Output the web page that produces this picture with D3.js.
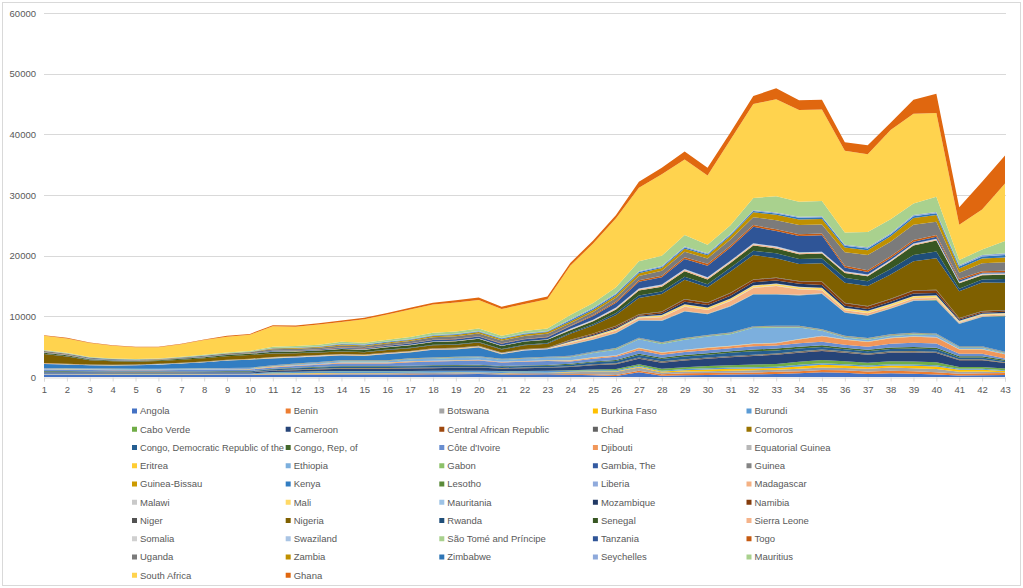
<!DOCTYPE html>
<html><head><meta charset="utf-8">
<script src="https://cdn.jsdelivr.net/npm/d3@7"></script>
<style>
body{margin:0;background:#fff;}
svg{display:block;font-family:"Liberation Sans",Arial,sans-serif;}
</style></head><body>
<svg id="chart" width="1023" height="588"></svg>
<script>
const categories = [1,2,3,4,5,6,7,8,9,10,11,12,13,14,15,16,17,18,19,20,21,22,23,24,25,26,27,28,29,30,31,32,33,34,35,36,37,38,39,40,41,42,43];
const yTicks = [0,10000,20000,30000,40000,50000,60000];

const angola = [350,350,340,330,320,320,330,340,350,350,350,370,380,400,400,400,420,440,460,480,400,420,440,380,300,150,800,200,300,350,400,450,500,600,800,700,500,600,550,400,250,300,350];
const benin = [30,30,30,30,30,30,30,30,30,30,60,60,60,70,70,70,70,70,70,70,70,70,70,100,150,200,250,250,300,300,300,300,350,350,350,400,400,450,400,400,300,300,300];
const botswana = [60,60,60,60,60,60,60,60,60,60,100,120,150,150,150,150,150,150,150,150,150,150,150,300,400,500,500,300,300,300,350,350,350,400,400,400,450,500,500,500,300,300,150];
const burkinaFaso = [30,30,30,30,30,30,30,30,30,30,60,60,60,60,60,60,60,60,60,60,60,60,60,100,100,100,150,150,200,300,300,300,300,400,450,400,350,350,400,450,350,300,200];
const burundi = [100,100,100,100,100,100,100,100,100,100,200,220,250,250,250,250,250,250,250,250,250,250,250,150,150,150,150,150,200,200,200,200,200,250,250,200,200,200,200,200,150,150,100];
const caboVerde = [20,20,20,20,20,20,20,20,20,20,40,40,40,40,40,40,40,40,40,40,40,40,40,100,150,200,250,300,300,350,400,450,450,500,550,500,450,500,500,500,300,300,300];
const cameroon = [150,150,150,150,150,150,150,150,150,150,200,250,300,400,400,400,420,450,480,500,400,450,500,500,700,800,900,1000,1100,1200,1300,1400,1500,1500,1500,1400,1300,1400,1500,1500,1100,1100,900];
const car = [20,20,20,20,20,20,20,20,20,20,30,30,30,30,30,30,30,30,30,30,30,30,30,30,40,40,50,50,50,50,50,50,50,50,50,50,50,50,50,50,50,50,50];
const chad = [30,30,30,30,30,30,30,30,30,30,60,60,60,60,60,60,60,60,60,60,60,60,60,80,100,100,150,150,150,150,150,150,150,150,150,150,150,150,150,150,100,100,50];
const comoros = [10,10,10,10,10,10,10,10,10,10,20,20,20,20,20,20,20,20,20,20,20,20,20,30,30,30,30,30,30,30,30,30,30,30,30,30,30,30,30,30,30,30,30];
const congoDR = [120,120,120,120,120,120,120,120,120,120,150,200,230,250,250,250,250,250,250,250,250,250,250,250,300,350,400,400,450,450,500,550,500,450,400,350,350,400,400,400,300,300,200];
const congoRep = [50,50,50,50,50,50,50,50,50,50,100,100,100,100,100,100,100,100,100,100,100,100,100,150,150,200,200,200,250,250,250,300,300,300,300,250,250,250,250,250,200,200,200];
const coteDIvoire = [250,230,200,180,170,180,200,230,250,280,200,270,330,400,400,400,580,620,650,700,550,600,650,400,450,500,600,500,500,500,500,550,500,600,600,500,500,600,700,700,400,400,200];
const djibouti = [30,30,30,30,30,30,30,30,30,30,100,100,100,100,100,100,100,100,100,100,100,100,100,100,150,200,300,300,300,350,350,350,400,600,900,800,800,900,1000,1000,700,700,700];
const eqGuinea = [10,10,10,10,10,10,10,10,10,10,20,20,20,20,20,20,20,20,20,20,20,20,20,50,50,50,50,50,50,50,50,50,50,50,50,50,50,50,50,50,50,50,50];
const eritrea = [20,20,20,20,20,20,20,20,20,20,30,30,30,30,30,30,30,30,30,30,30,30,30,30,30,30,30,30,30,30,30,30,30,30,30,30,30,30,30,30,30,30,30];
const ethiopia = [120,120,120,120,120,120,120,120,120,120,50,100,150,200,200,200,320,350,380,400,300,350,400,500,700,900,1400,1400,1650,1800,1900,2600,2500,1900,800,300,300,300,300,300,200,200,100];
const gabon = [20,20,20,20,20,20,20,20,20,20,50,50,50,50,50,50,50,50,50,50,50,50,50,100,100,100,100,100,100,100,100,100,100,100,100,100,100,100,100,100,100,100,100];
const gambia = [20,20,20,20,20,20,20,20,20,20,40,40,40,40,40,40,40,40,40,40,40,40,40,40,40,40,40,40,40,40,40,40,40,40,40,40,40,40,40,40,40,40,40];
const guinea = [30,30,30,30,30,30,30,30,30,30,60,60,60,60,60,60,60,60,60,60,60,60,60,100,100,100,100,100,100,100,100,100,100,100,100,100,100,100,100,100,100,100,100];
const guineaBissau = [10,10,10,10,10,10,10,10,10,10,20,20,20,20,20,20,20,20,20,20,20,20,20,30,30,30,30,30,30,30,30,30,30,30,30,30,30,30,30,30,30,30,30];
const kenya = [670,580,500,490,550,640,800,970,1230,1350,1115,985,895,795,715,1035,955,1275,1225,1445,765,1185,1225,1740,1910,2430,2800,3500,4350,3400,4300,5200,5150,5000,5800,3800,3650,4200,5250,5450,3650,4800,5850];
const lesotho = [10,10,10,10,10,10,10,10,10,10,20,20,20,20,20,20,20,20,20,20,20,20,20,50,50,50,50,50,50,50,50,50,50,50,50,50,50,50,50,50,50,50,50];
const liberia = [10,10,10,10,10,10,10,10,10,10,20,20,20,20,20,20,20,20,20,20,20,20,20,60,60,60,60,60,60,60,60,60,60,60,60,60,60,60,60,60,60,60,60];
const madagascar = [40,40,40,40,40,40,40,40,40,40,70,70,70,70,70,70,70,70,70,70,70,70,70,250,300,350,300,500,700,600,800,1000,1300,900,500,300,300,300,300,300,150,150,150];
const malawi = [10,10,10,10,10,10,10,10,10,10,20,20,20,20,20,20,20,20,20,20,20,20,20,60,60,60,60,60,60,60,60,60,60,60,60,60,60,60,60,60,60,60,60];
const mali = [30,30,30,30,30,30,30,30,30,30,40,40,40,40,40,40,40,40,40,40,40,40,40,120,150,180,150,250,300,300,300,300,300,300,300,300,300,300,300,300,150,150,150];
const mauritania = [10,10,10,10,10,10,10,10,10,10,20,20,20,20,20,20,20,20,20,20,20,20,20,60,60,60,60,60,60,60,60,60,60,60,60,60,60,60,60,60,60,60,60];
const mozambique = [10,10,10,10,10,10,10,10,10,10,20,20,20,20,20,20,20,20,20,20,20,20,20,100,150,200,150,250,400,400,450,500,500,500,450,350,300,350,400,400,200,200,200];
const namibia = [20,20,20,20,20,20,20,20,20,20,30,30,30,30,30,30,30,30,30,30,30,30,30,100,150,200,150,250,350,350,400,400,400,400,500,400,400,400,450,450,200,200,200];
const niger = [10,10,10,10,10,10,10,10,10,10,20,20,20,20,20,20,20,20,20,20,20,20,20,80,80,80,80,80,80,80,80,80,80,80,80,80,80,80,80,80,80,80,80];
const nigeria = [1500,1200,700,550,450,450,480,520,560,600,550,450,420,400,350,400,450,500,500,550,500,600,650,1000,1300,1800,2700,2900,3200,2500,3500,4000,3200,2800,3000,3300,3300,4000,4800,5200,4400,4700,4500];
const rwanda = [15,15,15,15,15,15,15,15,15,15,40,40,40,60,60,70,80,90,100,100,100,100,120,150,200,300,400,400,500,500,600,700,800,800,800,800,800,900,1000,1100,400,500,600];
const senegal = [200,180,150,130,120,120,140,160,180,200,250,260,280,350,350,380,400,450,480,520,500,520,550,400,500,600,800,800,900,800,800,900,800,800,800,800,800,1200,1600,1800,900,700,700];
const sierraLeone = [10,10,10,10,10,10,10,10,10,10,20,20,20,30,30,30,30,30,30,30,30,30,30,100,100,150,200,200,200,200,200,200,200,150,150,150,150,150,150,150,100,100,100];
const somalia = [5,5,5,5,5,5,5,5,5,5,10,10,10,10,10,10,10,10,10,10,10,10,10,50,50,50,50,50,50,50,50,50,50,50,50,50,50,50,50,50,50,50,50];
const swaziland = [10,10,10,10,10,10,10,10,10,10,20,20,20,30,30,30,30,30,30,30,30,30,30,100,100,100,100,100,100,100,100,100,100,100,100,100,100,100,100,100,100,100,100];
const saoTome = [5,5,5,5,5,5,5,5,5,5,5,5,5,5,5,5,5,5,5,5,5,5,5,10,10,10,10,10,10,10,10,10,10,10,10,10,10,10,10,10,10,10,10];
const tanzania = [30,30,30,30,30,30,30,30,30,30,100,100,100,150,150,180,200,250,280,300,300,320,350,400,600,800,1100,1200,1650,1900,2200,2700,2500,2700,2700,600,400,300,300,300,250,150,150];
const togo = [10,10,10,10,10,10,10,10,10,10,30,30,30,50,50,50,50,50,50,50,50,50,50,100,150,200,250,250,300,300,300,300,300,300,300,300,300,300,300,300,250,250,250];
const uganda = [200,180,150,120,100,100,120,150,180,200,250,270,280,300,300,330,360,400,430,450,450,480,500,400,500,600,700,800,900,900,1000,1300,1500,1500,1500,2200,2500,2400,2500,2200,1000,1300,1400];
const zambia = [30,30,30,30,30,30,30,30,30,30,100,100,100,150,150,160,180,200,220,240,240,260,280,300,350,400,450,450,500,500,600,800,900,900,900,800,800,900,1100,1100,700,800,800];
const zimbabwe = [20,20,20,20,20,20,20,20,20,20,60,60,60,100,100,100,100,100,100,100,100,100,100,200,200,200,200,200,200,200,200,200,200,300,300,300,300,300,300,300,300,300,400];
const seychelles = [15,15,15,15,15,15,15,15,15,15,50,50,50,80,80,80,80,80,80,80,80,80,80,150,150,150,150,150,150,150,150,150,150,150,150,150,200,200,200,200,200,250,300];
const mauritius = [100,100,80,70,60,60,80,100,120,140,200,220,250,280,260,280,320,360,380,400,380,400,420,700,800,1000,1650,1700,1900,1400,1400,2000,2700,2500,2500,2000,2500,2300,1900,2500,900,900,2000];
const southAfrica = [2350,2350,2300,2100,1950,1850,2070,2430,2600,2650,3370,3200,3350,3280,3870,4150,4520,4650,4800,4700,4400,4450,4800,8150,9800,11350,12100,13400,12450,11400,14100,15500,16000,15100,15100,13500,12800,14700,14800,13800,5800,6600,9500];
const ghana = [100,100,100,100,100,100,100,120,150,150,180,200,200,220,230,250,280,300,350,400,400,400,450,450,500,550,1000,1100,1300,1300,1200,1300,1800,1600,1600,1400,1500,1200,2300,3200,2900,4600,4600];

const seriesNames = ["Angola","Benin","Botswana","Burkina Faso","Burundi","Cabo Verde","Cameroon","Central African Republic","Chad","Comoros","Congo, Democratic Republic of the","Congo, Rep, of","Côte d'Ivoire","Djibouti","Equatorial Guinea","Eritrea","Ethiopia","Gabon","Gambia, The","Guinea","Guinea-Bissau","Kenya","Lesotho","Liberia","Madagascar","Malawi","Mali","Mauritania","Mozambique","Namibia","Niger","Nigeria","Rwanda","Senegal","Sierra Leone","Somalia","Swaziland","São Tomé and Príncipe","Tanzania","Togo","Uganda","Zambia","Zimbabwe","Seychelles","Mauritius","South Africa","Ghana"];
const seriesValues = [angola,benin,botswana,burkinaFaso,burundi,caboVerde,cameroon,car,chad,comoros,congoDR,congoRep,coteDIvoire,djibouti,eqGuinea,eritrea,ethiopia,gabon,gambia,guinea,guineaBissau,kenya,lesotho,liberia,madagascar,malawi,mali,mauritania,mozambique,namibia,niger,nigeria,rwanda,senegal,sierraLeone,somalia,swaziland,saoTome,tanzania,togo,uganda,zambia,zimbabwe,seychelles,mauritius,southAfrica,ghana];
const seriesColors = ["#4472C4","#ED7D31","#A5A5A5","#FFC000","#5B9BD5","#70AD47","#264478","#9E480E","#636363","#997300","#255E91","#43682B","#698ED0","#F1975A","#B7B7B7","#FFCD33","#7CAFDD","#8CC168","#335AA1","#848484","#CC9A00","#327DC2","#5A8A39","#8FAADC","#F4B183","#C9C9C9","#FFD966","#9DC3E6","#203864","#843C0C","#525252","#7F6000","#1F4E79","#385723","#F5B38A","#D0D0D0","#A9C4E4","#A9D18E","#2F5597","#C55A11","#7B7B7B","#BF9000","#2E75B6","#8EA9DB","#A9D18E","#FFD34E","#E0670F"];

const svg = d3.select("#chart");
const x = d3.scaleLinear().domain([1, 43]).range([44, 1005]);
const y = d3.scaleLinear().domain([0, 60000]).range([377, 13]);

// outer border
svg.append("rect").attr("x",2.5).attr("y",2.5).attr("width",1018).attr("height",583)
  .attr("fill","#fff").attr("stroke","#D9D9D9").attr("stroke-width",1);

// gridlines
svg.append("g").selectAll("line").data(yTicks.slice(1)).join("line")
  .attr("x1",44).attr("x2",1006).attr("y1",d=>Math.round(y(d))+0.5).attr("y2",d=>Math.round(y(d))+0.5)
  .attr("stroke","#D9D9D9").attr("stroke-width",1);

// data
const rows = categories.map((c,i)=>{const o={cat:c}; seriesNames.forEach((n,j)=>{o[n]=seriesValues[j][i];}); return o;});
const stacked = d3.stack().keys(seriesNames)(rows);
const area = d3.area().x(d=>x(d.data.cat)).y0(d=>y(d[0])).y1(d=>y(d[1]));
svg.append("g").selectAll("path").data(stacked).join("path")
  .attr("d",area).attr("fill",(d,i)=>seriesColors[i]);

// x axis
const xAxis = d3.axisBottom(x).tickValues(categories).tickFormat(d3.format("d")).tickSize(4).tickPadding(5);
const gx = svg.append("g").attr("transform","translate(0,377.5)").call(xAxis);
gx.select(".domain").attr("stroke","#D9D9D9");
gx.selectAll(".tick line").attr("stroke","#D9D9D9");
gx.selectAll(".tick text").attr("fill","#595959").attr("font-size",9.5).attr("font-family","'Liberation Sans',Arial,sans-serif");

// y axis labels
const yAxis = d3.axisLeft(y).tickValues(yTicks).tickFormat(d3.format("d")).tickSize(0).tickPadding(8);
const gy = svg.append("g").attr("transform","translate(44,0)").call(yAxis);
gy.select(".domain").remove();
gy.selectAll(".tick text").attr("fill","#595959").attr("font-size",9.5).attr("font-family","'Liberation Sans',Arial,sans-serif");

// legend
const colX = [132, 285.7, 439.3, 592.9, 746.5];
const lg = svg.append("g");
seriesNames.forEach((n,i)=>{
  const c = i % 5, r = Math.floor(i / 5);
  const cy = 411 + r * 18.25;
  lg.append("rect").attr("x",colX[c]).attr("y",cy-2.5).attr("width",5).attr("height",5).attr("fill",seriesColors[i]);
  const t = lg.append("text").attr("x",colX[c]+8).attr("y",cy).attr("dy","0.35em")
    .attr("font-size",9.5).attr("fill","#595959").text(n);
  const maxW = 144;
  if (t.node().getComputedTextLength() > maxW) {
    t.attr("textLength", maxW).attr("lengthAdjust","spacingAndGlyphs");
  }
});
</script>
</body></html>
